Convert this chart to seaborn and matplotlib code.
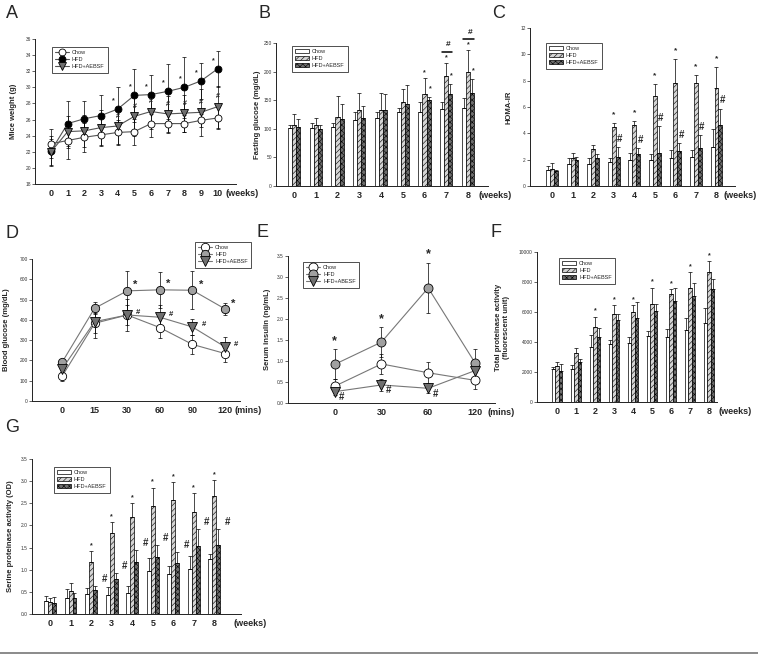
import numpy as np
import pandas as pd
import matplotlib
matplotlib.use('Agg')
import matplotlib.pyplot as plt
import seaborn as sns
from matplotlib.lines import Line2D

sns.set_style('ticks')
plt.rcParams['font.family'] = ['Liberation Sans', 'DejaVu Sans']
plt.rcParams['hatch.linewidth'] = 0.4

W, H = 758, 655
NARROW = ['Liberation Sans Narrow', 'Liberation Sans', 'DejaVu Sans']

groups = ['Chow', 'HFD', 'HFD+AEBSF']
bar_colors = ['white', '#d4d4d4', '#6e6e6e']
bar_hatches = ['', '//////', 'xxxxxx']
weeks9 = [str(i) for i in range(9)]

# A - mice weight (g), weeks 0-10
weeks11 = list(range(11))
wt_chow = [23.0, 23.4, 23.8, 24.1, 24.4, 24.5, 25.5, 25.5, 25.5, 25.9, 26.2]
wt_hfd = [22.1, 25.5, 26.1, 26.5, 27.3, 29.0, 29.1, 29.5, 30.0, 30.8, 32.3]
wt_aebsf = [22.0, 24.5, 24.6, 25.0, 25.2, 26.4, 27.0, 26.7, 26.8, 26.9, 27.6]
wt_chow_err = [1.8, 2.3, 1.8, 1.4, 1.5, 1.6, 1.7, 1.2, 1.1, 0.8, 1.4]
wt_hfd_err = [1.9, 2.8, 2.2, 2.6, 2.7, 3.3, 2.4, 3.4, 3.8, 2.2, 2.2]
wt_aebsf_err = [1.6, 2.0, 2.0, 2.2, 2.2, 2.5, 2.2, 2.2, 2.3, 2.9, 2.6]

# B - fasting glucose (mg/dL)
fg_chow = [101, 101, 104, 115, 119, 129, 130, 135, 137]
fg_hfd = [107, 106, 121, 132, 132, 146, 161, 192, 200]
fg_aebsf = [104, 100, 118, 119, 132, 144, 150, 160, 163]
fg_chow_err = [5, 10, 6, 15, 11, 7, 17, 12, 17]
fg_hfd_err = [19, 13, 36, 31, 31, 23, 27, 23, 37]
fg_aebsf_err = [13, 7, 25, 20, 29, 33, 5, 18, 24]

# C - HOMA-IR
homa_chow = [1.2, 1.65, 1.7, 1.8, 2.0, 2.0, 2.15, 2.2, 3.0]
homa_hfd = [1.27, 2.1, 2.8, 4.47, 4.6, 6.87, 7.86, 7.8, 7.47]
homa_aebsf = [1.15, 2.0, 2.1, 2.2, 2.4, 2.5, 2.65, 2.85, 4.63]
homa_chow_err = [0.3, 0.45, 0.4, 0.3, 0.5, 0.4, 0.6, 0.55, 1.35]
homa_hfd_err = [0.5, 0.4, 0.3, 0.3, 0.35, 0.9, 1.8, 0.6, 1.6]
homa_aebsf_err = [0.1, 0.2, 0.3, 0.75, 0.45, 2.05, 0.6, 1.0, 1.25]

# D - blood glucose during GTT (mg/dL)
mins_d = ['0', '15', '30', '60', '90', '120']
bg_chow = [121, 383, 424, 362, 279, 234]
bg_hfd = [190, 457, 543, 548, 546, 454]
bg_aebsf = [157, 391, 424, 413, 365, 267]
bg_chow_err = [22, 50, 50, 50, 45, 40]
bg_hfd_err = [10, 30, 96, 90, 93, 28]
bg_aebsf_err = [15, 80, 80, 60, 40, 50]

# E - serum insulin (ng/mL)
mins_e = ['0', '30', '60', '120']
ins_chow = [0.40, 0.93, 0.72, 0.54]
ins_hfd = [0.92, 1.45, 2.74, 0.96]
ins_aebsf = [0.27, 0.43, 0.35, 0.77]
ins_chow_err = [0.17, 0.23, 0.25, 0.20]
ins_hfd_err = [0.36, 0.35, 0.60, 0.33]
ins_aebsf_err = [0.08, 0.14, 0.10, 0.15]

# F - total proteinase activity (fluorescent unit)
tp_chow = [2200, 2200, 3690, 3870, 3920, 4400, 4340, 4800, 5290]
tp_hfd = [2370, 3250, 4980, 5840, 5970, 6530, 7210, 7630, 8670]
tp_aebsf = [2100, 2650, 4360, 5440, 5580, 6060, 6750, 7060, 7520]
tp_chow_err = [150, 240, 750, 280, 400, 350, 500, 800, 1000]
tp_hfd_err = [300, 350, 720, 600, 470, 1100, 300, 1050, 700]
tp_aebsf_err = [450, 200, 550, 400, 1100, 450, 850, 900, 700]

# G - serine proteinase activity (OD)
sp_chow = [0.29, 0.36, 0.46, 0.44, 0.47, 0.96, 0.90, 1.02, 1.25]
sp_hfd = [0.26, 0.53, 1.17, 1.82, 2.20, 2.43, 2.57, 2.30, 2.67]
sp_aebsf = [0.24, 0.37, 0.55, 0.80, 1.17, 1.29, 1.16, 1.53, 1.55]
sp_chow_err = [0.12, 0.20, 0.13, 0.17, 0.17, 0.30, 0.18, 0.30, 0.10]
sp_hfd_err = [0.10, 0.17, 0.25, 0.25, 0.31, 0.42, 0.40, 0.43, 0.36]
sp_aebsf_err = [0.15, 0.10, 0.08, 0.13, 0.28, 0.27, 0.24, 0.38, 0.36]

fig = plt.figure(figsize=(W / 100, H / 100), dpi=100)


def panel_axes(l, t, r, b):
    ax = fig.add_axes([l / W, 1 - b / H, (r - l) / W, (b - t) / H])
    sns.despine(ax=ax)
    for s in ['left', 'bottom']:
        ax.spines[s].set_linewidth(0.7)
        ax.spines[s].set_color('#222222')
    ax.tick_params(axis='y', length=2, width=0.5, pad=1, labelsize=3.5,
                   labelcolor='#333333', color='#222222')
    ax.tick_params(axis='x', length=0, pad=3.5)
    return ax


def finish_x(ax, labels, xlim, unit, unit_x):
    ax.set_xticks(range(len(labels)))
    ax.set_xticklabels(labels, fontsize=6.5, fontweight='bold', family=NARROW)
    ax.set_xlim(*xlim)
    ax.set_xlabel('')
    ax.annotate(unit, xy=(unit_x, 0), xycoords=('data', 'axes fraction'),
                xytext=(0, -3.5), textcoords='offset points', ha='left', va='top',
                fontsize=6.5, fontweight='bold', family=NARROW, annotation_clip=False)


def finish_y(ax, top, step, label, label_x, fmt='{:.0f}'):
    ticks = np.arange(0, top + step / 2, step)
    ax.set_ylim(ticks[0], ticks[-1])
    ax.set_yticks(ticks)
    ax.set_yticklabels([fmt.format(t) for t in ticks])
    ax.set_ylabel(label, fontsize=5.5, fontweight='bold')
    ax.yaxis.set_label_coords(label_x, 0.5)


def panel_legend(ax, handles, labels, x, y):
    leg = ax.legend(handles, labels, loc='upper left', bbox_to_anchor=(x / W, 1 - y / H),
                    bbox_transform=fig.transFigure, fontsize=4, frameon=True, fancybox=False,
                    edgecolor='black', borderpad=0.6, labelspacing=0.35, handlelength=2.4,
                    handletextpad=0.6, borderaxespad=0)
    leg.get_frame().set_linewidth(0.6)


def mark(ax, x, y, s, dx=0, dy=4, size=5, ha='center', va='center'):
    ax.annotate(s, xy=(x, y), xytext=(dx, dy), textcoords='offset points', ha=ha, va=va,
                fontsize=size, fontweight='bold', annotation_clip=False)


def bar_panel(ax, vals, errs):
    df = pd.DataFrame({'week': weeks9 * 3,
                       'group': np.repeat(groups, 9),
                       'value': np.concatenate(vals)})
    sns.barplot(data=df, x='week', y='value', hue='group', order=weeks9, hue_order=groups,
                palette=bar_colors, saturation=1, width=0.57, edgecolor='black',
                linewidth=0.5, errorbar=None, legend=False, ax=ax)
    bars = list(ax.containers)
    handles = [c.patches[0] for c in bars]
    centers, tops = [], []
    for cont, hatch, err in zip(bars, bar_hatches, errs):
        xs = []
        for p in cont.patches:
            p.set_hatch(hatch)
            xs.append(p.get_x() + p.get_width() / 2)
        ys = np.array([p.get_height() for p in cont.patches])
        ax.errorbar(xs, ys, yerr=[np.zeros(len(err)), err], fmt='none', ecolor='black',
                    elinewidth=0.5, capsize=1.5, capthick=0.5, zorder=3)
        centers.append(np.array(xs))
        tops.append(ys + np.array(err))
    return centers, tops, handles


def line_series(ax, x, y, err, marker, face, size, line_color):
    sns.lineplot(x=x, y=y, color=line_color, marker=marker, markersize=size,
                 markerfacecolor=face, markeredgecolor='black', markeredgewidth=0.6,
                 linewidth=0.8, zorder=3, ax=ax)
    h = ax.lines[-1]
    ax.errorbar(x, y, yerr=err, fmt='none', ecolor='black', elinewidth=0.5,
                capsize=1.5, capthick=0.5, zorder=2)
    return h


# ---- A
ax = panel_axes(35, 39, 236, 184)
h1 = line_series(ax, weeks11, wt_chow, wt_chow_err, 'o', 'white', 5, '#555555')
h2 = line_series(ax, weeks11, wt_hfd, wt_hfd_err, 'o', 'black', 5, '#555555')
h3 = line_series(ax, weeks11, wt_aebsf, wt_aebsf_err, 'v', '#6e6e6e', 5.5, '#555555')
for i in range(4, 11):
    mark(ax, i, wt_hfd[i], '*', dx=-3, dy=6, size=5)
    mark(ax, i, wt_aebsf[i], '#', dx=0, dy=7, size=5)
ax.set_ylim(18, 36)
ax.set_yticks(range(18, 37, 2))
ax.set_ylabel('Mice weight (g)', fontsize=5.5, fontweight='bold')
ax.yaxis.set_label_coords(-0.089, 0.5)
finish_x(ax, [str(w) for w in weeks11], (-0.96, 11.1), '(weeks)', 10.5)
panel_legend(ax, [h1, h2, h3], groups, 52, 47)

# ---- B
ax = panel_axes(276, 43, 488, 186)
centers, tops, handles = bar_panel(ax, [fg_chow, fg_hfd, fg_aebsf],
                                   [fg_chow_err, fg_hfd_err, fg_aebsf_err])
for i in [6, 7, 8]:
    mark(ax, centers[1][i], tops[1][i], '*', dy=4, size=5)
    mark(ax, centers[2][i], tops[2][i], '*', dx=1, dy=6, size=5)
for i in [7, 8]:
    yb = tops[1][i] + 20
    ax.plot([centers[1][i] - 0.21, centers[2][i] + 0.09], [yb, yb], color='black', lw=1.1,
            clip_on=False)
    mark(ax, (centers[1][i] + centers[2][i]) / 2, yb, '#', dy=5, size=6)
finish_y(ax, 250, 50, 'Fasting glucose (mg/dL)', -0.071)
finish_x(ax, weeks9, (-0.83, 8.92), '(weeks)', 8.5)
panel_legend(ax, handles, groups, 292, 46)

# ---- C
ax = panel_axes(530, 28, 735, 186)
centers, tops, handles = bar_panel(ax, [homa_chow, homa_hfd, homa_aebsf],
                                   [homa_chow_err, homa_hfd_err, homa_aebsf_err])
for i in range(3, 9):
    mark(ax, centers[1][i], tops[1][i], '*', dy=6, size=6)
    mark(ax, centers[2][i], tops[2][i], '#', dx=1.5, dy=6, size=7)
finish_y(ax, 12, 2, 'HOMA-IR', -0.083)
finish_x(ax, weeks9, (-1.07, 8.9), '(weeks)', 8.35)
panel_legend(ax, handles, groups, 546, 43)

# ---- D
ax = panel_axes(32, 259, 240, 401)
xd = list(range(len(mins_d)))
h1 = line_series(ax, xd, bg_chow, bg_chow_err, 'o', 'white', 6, '#777777')
h2 = line_series(ax, xd, bg_hfd, bg_hfd_err, 'o', '#a0a0a0', 6, '#777777')
h3 = line_series(ax, xd, bg_aebsf, bg_aebsf_err, 'v', '#707070', 6.5, '#777777')
for i in range(2, 6):
    mark(ax, i, bg_hfd[i], '*', dx=6, dy=4, size=8)
    mark(ax, i, bg_aebsf[i], '#', dx=8, dy=2, size=5.5)
finish_y(ax, 700, 100, 'Blood glucose (mg/dL)', -0.106)
finish_x(ax, mins_d, (-0.92, 5.46), '(mins)', 5.28)
panel_legend(ax, [h1, h2, h3], groups, 195, 242)

# ---- E
ax = panel_axes(288, 256, 495, 403)
xe = list(range(len(mins_e)))
h1 = line_series(ax, xe, ins_chow, ins_chow_err, 'o', 'white', 6.5, '#777777')
h2 = line_series(ax, xe, ins_hfd, ins_hfd_err, 'o', '#a0a0a0', 6.5, '#777777')
h3 = line_series(ax, xe, ins_aebsf, ins_aebsf_err, 'v', '#707070', 7, '#777777')
for i in range(3):
    mark(ax, i, ins_hfd[i] + ins_hfd_err[i], '*', dy=6, size=9)
    mark(ax, i, ins_aebsf[i], '#', dx=5, dy=-4, size=7)
finish_y(ax, 3.5, 0.5, 'Serum insulin (ng/mL)', -0.082, fmt='{:.1f}')
finish_x(ax, mins_e, (-1.0, 3.43), '(mins)', 3.28)
panel_legend(ax, [h1, h2, h3], ['Chow', 'HFD', 'HFD+ABESF'], 303, 262)

# ---- F
ax = panel_axes(537, 252, 717, 402)
centers, tops, handles = bar_panel(ax, [tp_chow, tp_hfd, tp_aebsf],
                                   [tp_chow_err, tp_hfd_err, tp_aebsf_err])
for i in range(2, 9):
    mark(ax, centers[1][i], tops[1][i], '*', dy=4, size=5)
finish_y(ax, 10000, 2000, 'Total proteinase activity\n(fluorescent unit)', -0.15)
finish_x(ax, weeks9, (-1.05, 8.42), '(weeks)', 8.5)
panel_legend(ax, handles, groups, 559, 258)

# ---- G
ax = panel_axes(32, 459, 241, 614)
centers, tops, handles = bar_panel(ax, [sp_chow, sp_hfd, sp_aebsf],
                                   [sp_chow_err, sp_hfd_err, sp_aebsf_err])
for i in range(2, 9):
    mark(ax, centers[1][i], tops[1][i], '*', dy=4, size=5)
    mark(ax, centers[2][i], tops[2][i], '#', dx=6.5, dy=5, size=7)
finish_y(ax, 3.5, 0.5, 'Serine proteinase activity (OD)', -0.084, fmt='{:.1f}')
finish_x(ax, weeks9, (-0.88, 9.3), '(weeks)', 8.93)
panel_legend(ax, handles, groups, 54, 467)

# panel letters
for letter, (x, y) in {'A': (12, 14), 'B': (264, 13), 'C': (499, 13), 'D': (12, 233),
                       'E': (262, 232), 'F': (496, 232), 'G': (12, 428)}.items():
    fig.text(x / W, 1 - y / H, letter, fontsize=13, ha='center', va='center')

fig.add_artist(Line2D([0, 1], [1 - 653 / H] * 2, color='#777777', lw=1.2,
                      transform=fig.transFigure))

fig.savefig('out.png', dpi=100, facecolor='white')
